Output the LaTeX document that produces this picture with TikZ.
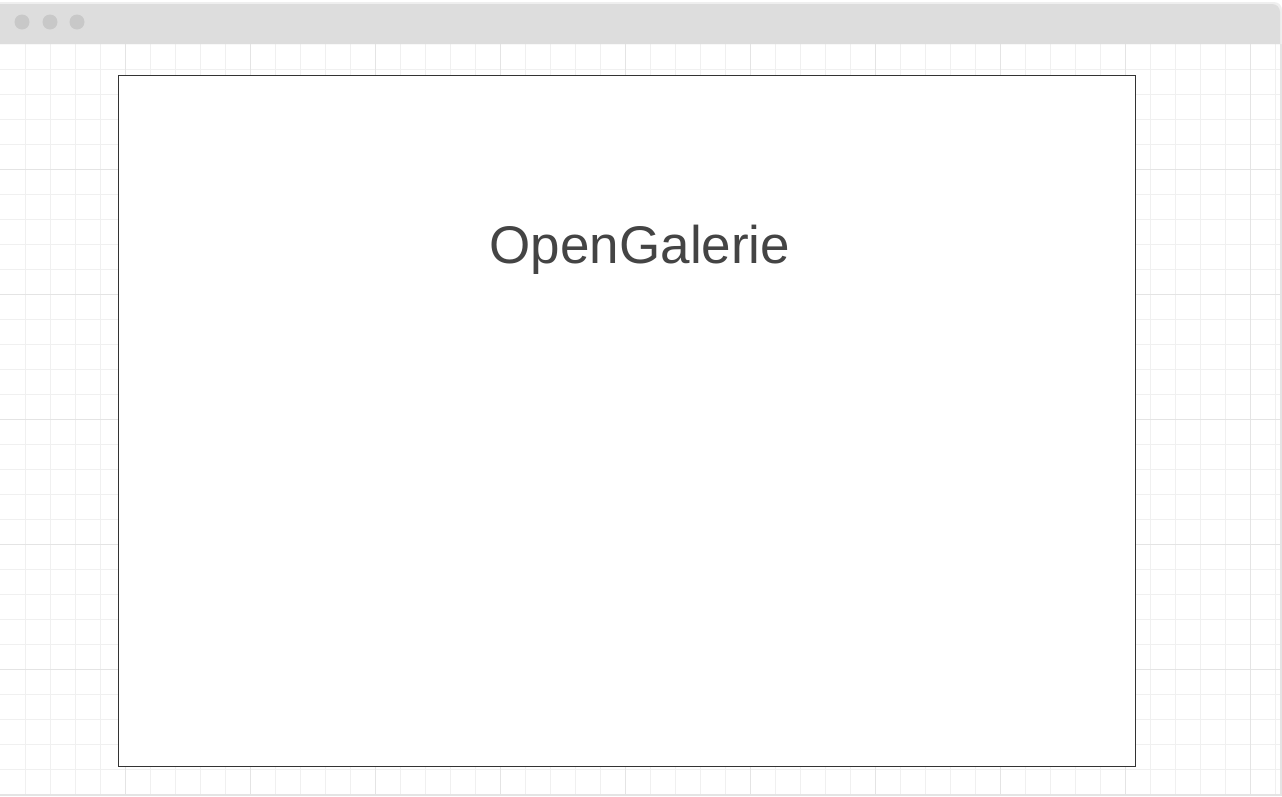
\documentclass[tikz,border=0pt]{standalone}
\usepackage{fontspec}
\setmainfont{Liberation Sans}
\usetikzlibrary{shapes}
\definecolor{barfill}{HTML}{DDDDDD}
\definecolor{dotfill}{HTML}{C8C8C8}
\definecolor{minorgrid}{HTML}{F0F0F0}
\definecolor{majorgrid}{HTML}{E4E4E4}
\definecolor{framegray}{HTML}{333333}
\definecolor{titlegray}{HTML}{444444}
\tikzstyle{minorline} = [draw=minorgrid, line width=1pt]
\tikzstyle{majorline} = [draw=majorgrid, line width=1pt]
\tikzstyle{windot} = [circle, fill=dotfill, minimum size=15pt, inner sep=0pt]
\tikzstyle{canvas} = [rectangle, draw=framegray, fill=white, line width=0.9pt, minimum width=1017pt, minimum height=691pt, inner sep=0pt]
\tikzstyle{apptitle} = [text=titlegray, font=\fontsize{53}{60}\selectfont, inner sep=0pt]

\begin{document}
\begin{tikzpicture}[x=1pt, y=-1pt]
    \useasboundingbox (0,0) rectangle (1282,796);
    % window body and grid
    \fill[white] (0,2) rectangle (1282,796);
    \foreach \x in {25,50,...,1275} \path[minorline] (\x,44) -- (\x,796);
    \foreach \y in {69,94,...,794} \path[minorline] (0,\y) -- (1282,\y);
    \foreach \x in {125,250,...,1250} \path[majorline] (\x,44) -- (\x,796);
    \foreach \y in {169,294,...,794} \path[majorline] (0,\y) -- (1282,\y);
    \draw[majorgrid, line width=2pt] (0,795) -- (1281,795) -- (1281,10);
    % title bar
    \fill[majorgrid!60, rounded corners=8pt] (0,2) -- (1282,2) -- (1282,44) [sharp corners] -- (1282,44) -- (0,44) -- cycle;
    \fill[barfill, rounded corners=8pt] (0,4) -- (1280,4) -- (1280,44) [sharp corners] -- (1280,44) -- (0,44) -- cycle;
    \fill[barfill] (0,20) rectangle (1280,44);
    \node[windot] (close) at (22,22) {};
    \node[windot] (minimize) at (50,22) {};
    \node[windot] (maximize) at (77,22) {};
    % page
    \node[canvas] (page) at (627,421) {};
    \node[apptitle, anchor=base] (name) at (640,263) {OpenGalerie};
\end{tikzpicture}
\end{document}
